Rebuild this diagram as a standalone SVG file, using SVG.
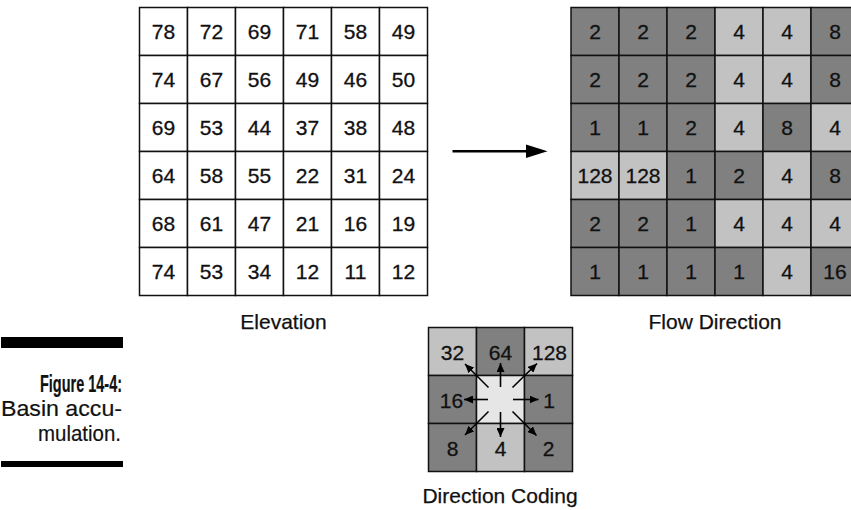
<svg xmlns="http://www.w3.org/2000/svg" width="851" height="510" viewBox="0 0 851 510">
<style>
text{font-family:"Liberation Sans",Arial,sans-serif;fill:#111;}
.n{font-size:21px;text-anchor:middle;stroke:#111;stroke-width:0.3;}
.lbl{font-size:21px;text-anchor:middle;stroke:#111;stroke-width:0.25;}
.cap{font-size:22px;text-anchor:end;stroke:#111;stroke-width:0.2;}
.b{font-weight:bold;font-size:23px;}
.w{fill:#fff;stroke:#111;stroke-width:1.5;}
.d{fill:#808080;stroke:#111;stroke-width:1.5;}
.l{fill:#c2c2c2;stroke:#111;stroke-width:1.5;}
.c{fill:#e6e6e6;stroke:#111;stroke-width:1.5;}
.arr{stroke:#000;stroke-width:1.6;fill:none;marker-end:url(#ah);}
</style>
<defs>
<marker id="ah" markerUnits="userSpaceOnUse" markerWidth="10" markerHeight="8" refX="9" refY="4" orient="auto">
<path d="M0,0 L9,4 L0,8 z" fill="#000"/>
</marker>
</defs>
<rect width="851" height="510" fill="#fff"/>

<g id="elevation">
<g class="cells">
<rect class="w" x="139.5" y="7.5" width="48" height="48"/><rect class="w" x="187.5" y="7.5" width="48" height="48"/><rect class="w" x="235.5" y="7.5" width="48" height="48"/><rect class="w" x="283.5" y="7.5" width="48" height="48"/><rect class="w" x="331.5" y="7.5" width="48" height="48"/><rect class="w" x="379.5" y="7.5" width="48" height="48"/>
<rect class="w" x="139.5" y="55.5" width="48" height="48"/><rect class="w" x="187.5" y="55.5" width="48" height="48"/><rect class="w" x="235.5" y="55.5" width="48" height="48"/><rect class="w" x="283.5" y="55.5" width="48" height="48"/><rect class="w" x="331.5" y="55.5" width="48" height="48"/><rect class="w" x="379.5" y="55.5" width="48" height="48"/>
<rect class="w" x="139.5" y="103.5" width="48" height="48"/><rect class="w" x="187.5" y="103.5" width="48" height="48"/><rect class="w" x="235.5" y="103.5" width="48" height="48"/><rect class="w" x="283.5" y="103.5" width="48" height="48"/><rect class="w" x="331.5" y="103.5" width="48" height="48"/><rect class="w" x="379.5" y="103.5" width="48" height="48"/>
<rect class="w" x="139.5" y="151.5" width="48" height="48"/><rect class="w" x="187.5" y="151.5" width="48" height="48"/><rect class="w" x="235.5" y="151.5" width="48" height="48"/><rect class="w" x="283.5" y="151.5" width="48" height="48"/><rect class="w" x="331.5" y="151.5" width="48" height="48"/><rect class="w" x="379.5" y="151.5" width="48" height="48"/>
<rect class="w" x="139.5" y="199.5" width="48" height="48"/><rect class="w" x="187.5" y="199.5" width="48" height="48"/><rect class="w" x="235.5" y="199.5" width="48" height="48"/><rect class="w" x="283.5" y="199.5" width="48" height="48"/><rect class="w" x="331.5" y="199.5" width="48" height="48"/><rect class="w" x="379.5" y="199.5" width="48" height="48"/>
<rect class="w" x="139.5" y="247.5" width="48" height="48"/><rect class="w" x="187.5" y="247.5" width="48" height="48"/><rect class="w" x="235.5" y="247.5" width="48" height="48"/><rect class="w" x="283.5" y="247.5" width="48" height="48"/><rect class="w" x="331.5" y="247.5" width="48" height="48"/><rect class="w" x="379.5" y="247.5" width="48" height="48"/>
</g>
<g class="n">
<text x="163.5" y="38.5">78</text><text x="211.5" y="38.5">72</text><text x="259.5" y="38.5">69</text><text x="307.5" y="38.5">71</text><text x="355.5" y="38.5">58</text><text x="403.5" y="38.5">49</text>
<text x="163.5" y="86.5">74</text><text x="211.5" y="86.5">67</text><text x="259.5" y="86.5">56</text><text x="307.5" y="86.5">49</text><text x="355.5" y="86.5">46</text><text x="403.5" y="86.5">50</text>
<text x="163.5" y="134.5">69</text><text x="211.5" y="134.5">53</text><text x="259.5" y="134.5">44</text><text x="307.5" y="134.5">37</text><text x="355.5" y="134.5">38</text><text x="403.5" y="134.5">48</text>
<text x="163.5" y="182.5">64</text><text x="211.5" y="182.5">58</text><text x="259.5" y="182.5">55</text><text x="307.5" y="182.5">22</text><text x="355.5" y="182.5">31</text><text x="403.5" y="182.5">24</text>
<text x="163.5" y="230.5">68</text><text x="211.5" y="230.5">61</text><text x="259.5" y="230.5">47</text><text x="307.5" y="230.5">21</text><text x="355.5" y="230.5">16</text><text x="403.5" y="230.5">19</text>
<text x="163.5" y="278.5">74</text><text x="211.5" y="278.5">53</text><text x="259.5" y="278.5">34</text><text x="307.5" y="278.5">12</text><text x="355.5" y="278.5">11</text><text x="403.5" y="278.5">12</text>
</g>
<text class="lbl" x="283.5" y="329">Elevation</text>
</g>

<g id="flow-direction">
<g class="cells">
<rect class="d" x="571" y="7.5" width="48" height="48"/><rect class="d" x="619" y="7.5" width="48" height="48"/><rect class="d" x="667" y="7.5" width="48" height="48"/><rect class="l" x="715" y="7.5" width="48" height="48"/><rect class="l" x="763" y="7.5" width="48" height="48"/><rect class="d" x="811" y="7.5" width="48" height="48"/>
<rect class="d" x="571" y="55.5" width="48" height="48"/><rect class="d" x="619" y="55.5" width="48" height="48"/><rect class="d" x="667" y="55.5" width="48" height="48"/><rect class="l" x="715" y="55.5" width="48" height="48"/><rect class="l" x="763" y="55.5" width="48" height="48"/><rect class="d" x="811" y="55.5" width="48" height="48"/>
<rect class="d" x="571" y="103.5" width="48" height="48"/><rect class="d" x="619" y="103.5" width="48" height="48"/><rect class="d" x="667" y="103.5" width="48" height="48"/><rect class="l" x="715" y="103.5" width="48" height="48"/><rect class="d" x="763" y="103.5" width="48" height="48"/><rect class="l" x="811" y="103.5" width="48" height="48"/>
<rect class="l" x="571" y="151.5" width="48" height="48"/><rect class="l" x="619" y="151.5" width="48" height="48"/><rect class="d" x="667" y="151.5" width="48" height="48"/><rect class="d" x="715" y="151.5" width="48" height="48"/><rect class="l" x="763" y="151.5" width="48" height="48"/><rect class="d" x="811" y="151.5" width="48" height="48"/>
<rect class="d" x="571" y="199.5" width="48" height="48"/><rect class="d" x="619" y="199.5" width="48" height="48"/><rect class="d" x="667" y="199.5" width="48" height="48"/><rect class="l" x="715" y="199.5" width="48" height="48"/><rect class="l" x="763" y="199.5" width="48" height="48"/><rect class="l" x="811" y="199.5" width="48" height="48"/>
<rect class="d" x="571" y="247.5" width="48" height="48"/><rect class="d" x="619" y="247.5" width="48" height="48"/><rect class="d" x="667" y="247.5" width="48" height="48"/><rect class="d" x="715" y="247.5" width="48" height="48"/><rect class="l" x="763" y="247.5" width="48" height="48"/><rect class="d" x="811" y="247.5" width="48" height="48"/>
</g>
<g class="n">
<text x="595" y="38.5">2</text><text x="643" y="38.5">2</text><text x="691" y="38.5">2</text><text x="739" y="38.5">4</text><text x="787" y="38.5">4</text><text x="835" y="38.5">8</text>
<text x="595" y="86.5">2</text><text x="643" y="86.5">2</text><text x="691" y="86.5">2</text><text x="739" y="86.5">4</text><text x="787" y="86.5">4</text><text x="835" y="86.5">8</text>
<text x="595" y="134.5">1</text><text x="643" y="134.5">1</text><text x="691" y="134.5">2</text><text x="739" y="134.5">4</text><text x="787" y="134.5">8</text><text x="835" y="134.5">4</text>
<text x="595" y="182.5">128</text><text x="643" y="182.5">128</text><text x="691" y="182.5">1</text><text x="739" y="182.5">2</text><text x="787" y="182.5">4</text><text x="835" y="182.5">8</text>
<text x="595" y="230.5">2</text><text x="643" y="230.5">2</text><text x="691" y="230.5">1</text><text x="739" y="230.5">4</text><text x="787" y="230.5">4</text><text x="835" y="230.5">4</text>
<text x="595" y="278.5">1</text><text x="643" y="278.5">1</text><text x="691" y="278.5">1</text><text x="739" y="278.5">1</text><text x="787" y="278.5">4</text><text x="835" y="278.5">16</text>
</g>
<text class="lbl" x="715" y="329">Flow Direction</text>
</g>

<g id="direction-coding">
<rect class="l" x="428.5" y="327.5" width="48" height="48"/><rect class="d" x="476.5" y="327.5" width="48" height="48"/><rect class="l" x="524.5" y="327.5" width="48" height="48"/>
<rect class="d" x="428.5" y="375.5" width="48" height="48"/><rect class="c" x="476.5" y="375.5" width="48" height="48"/><rect class="d" x="524.5" y="375.5" width="48" height="48"/>
<rect class="d" x="428.5" y="423.5" width="48" height="48"/><rect class="l" x="476.5" y="423.5" width="48" height="48"/><rect class="d" x="524.5" y="423.5" width="48" height="48"/>
<g class="n">
<text x="452.5" y="359.5">32</text><text x="500.5" y="359.5">64</text><text x="549.5" y="359.5">128</text>
<text x="451.5" y="407.5">16</text><text x="549" y="407.5">1</text>
<text x="452.5" y="455.5">8</text><text x="500.5" y="455.5">4</text><text x="548.5" y="455.5">2</text>
</g>
<text class="lbl" x="500" y="503">Direction Coding</text>
</g>

<g id="connectors">
<line x1="452.5" y1="151.3" x2="528" y2="151.3" stroke="#000" stroke-width="2.5"/>
<polygon points="526,144.5 547.5,151.3 526,158" fill="#000"/>
<line class="arr" x1="500.5" y1="387" x2="500.5" y2="363"/>
<line class="arr" x1="500.5" y1="412" x2="500.5" y2="437"/>
<line class="arr" x1="513" y1="399.5" x2="538.5" y2="399.5"/>
<line class="arr" x1="488" y1="399.5" x2="464" y2="399.5"/>
<line class="arr" x1="512.5" y1="387.5" x2="537" y2="363.5"/>
<line class="arr" x1="488.5" y1="387.5" x2="465" y2="364"/>
<line class="arr" x1="512.5" y1="411.5" x2="536.5" y2="435.5"/>
<line class="arr" x1="488.5" y1="411.5" x2="465" y2="435"/>
</g>

<g id="caption">
<rect x="1" y="337" width="122" height="11" fill="#000"/>
<text class="cap b" x="122" y="392" textLength="82" lengthAdjust="spacingAndGlyphs">Figure 14-4:</text>
<text class="cap" x="122" y="416" textLength="121" lengthAdjust="spacingAndGlyphs">Basin accu-</text>
<text class="cap" x="121" y="441" textLength="83" lengthAdjust="spacingAndGlyphs">mulation.</text>
<rect x="1" y="461" width="122" height="6" fill="#000"/>
</g>
</svg>
